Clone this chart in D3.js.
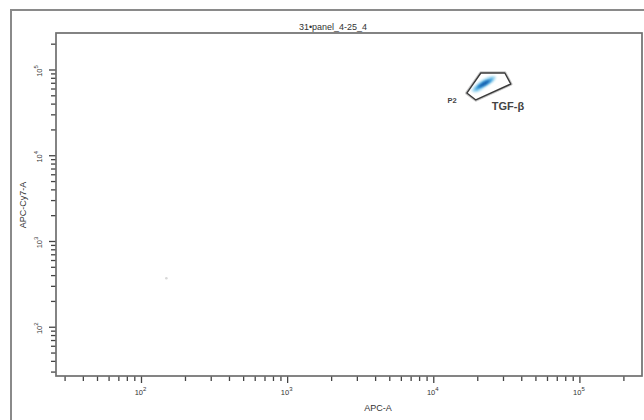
<!DOCTYPE html>
<html><head><meta charset="utf-8">
<script src="https://cdn.jsdelivr.net/npm/d3@7"></script>
<style>body{margin:0;background:#fff}svg{display:block}</style>
</head><body>
<svg id="c" width="644" height="420"></svg>
<script>
// ---- data ----
const title = "31•panel_4-25_4";
const xLabel = "APC-A";
const yLabel = "APC-Cy7-A";
const xDomain = [26, 266000];
const yDomain = [27, 270000];
const majorExps = [2, 3, 4, 5];
const gateName = "P2";
const populationLabel = "TGF-β";
const gateVertices = [[16830,53840],[20990,92200],[30650,92200],[33660,68600],[19400,44700]];
const densityOuter = [[18200,56900],[19400,66800],[22000,78500],[24950,85100],[26600,82800],[25760,74300],[23070,65000],[20000,55300]];
const densityMiddle = [[19100,60000],[20650,68600],[23070,76400],[25350,80700],[24550,72400],[22000,65000],[19700,58400]];
const densityInner = [[20000,63300],[22000,72400],[24200,76400],[23070,68600],[21000,63300]];
const strayEvents = [[148,373]];

// ---- layout ----
const svg = d3.select("#c");
const L = 56, R = 642, T = 33, B = 376;
const x = d3.scaleLog().domain(xDomain).range([L, R]);
const y = d3.scaleLog().domain(yDomain).range([B, T]);
const FONT = "Liberation Sans, Arial";

// outer frame
svg.append("rect").attr("x",11).attr("y",10).attr("width",640).attr("height",420)
  .attr("fill","none").attr("stroke","#8a8a8a").attr("stroke-width",2);

// minor/major ticks
function tickVals(dom){
  const out=[];
  for(let e=1;e<=5;e++) for(let k=1;k<=9;k++){const v=k*Math.pow(10,e); if(v>=dom[0]&&v<=dom[1]) out.push({v, major:k===1});}
  return out;
}
const gx = svg.append("g");
tickVals(xDomain).forEach(t=>{
  gx.append("line").attr("x1",x(t.v)).attr("x2",x(t.v)).attr("y1",B).attr("y2",B+(t.major?7:5))
    .attr("stroke","#444").attr("stroke-width",1.3);
});
const gy = svg.append("g");
tickVals(yDomain).forEach(t=>{
  gy.append("line").attr("y1",y(t.v)).attr("y2",y(t.v)).attr("x1",L).attr("x2",L-(t.major?7:5))
    .attr("stroke","#444").attr("stroke-width",1.3);
});

// tick labels
majorExps.forEach(e=>{
  const v=Math.pow(10,e);
  const tx = gx.append("text").attr("x",x(v)-1).attr("y",395).attr("text-anchor","middle")
    .attr("font-family",FONT).attr("font-size",7.5).attr("fill","#333");
  tx.append("tspan").text("10");
  tx.append("tspan").attr("dy",-4).attr("font-size",6).text(e);
  const ty = gy.append("text").attr("transform",`translate(42,${y(v)+1}) rotate(-90)`).attr("text-anchor","middle")
    .attr("font-family",FONT).attr("font-size",7.5).attr("fill","#333");
  ty.append("tspan").text("10");
  ty.append("tspan").attr("dy",-4).attr("font-size",6).text(e);
});

// plot box
svg.append("rect").attr("x",L).attr("y",T).attr("width",R-L).attr("height",B-T)
  .attr("fill","none").attr("stroke","#6f6f6f").attr("stroke-width",1.7);

// title & labels
svg.append("text").attr("x",333).attr("y",30).attr("text-anchor","middle")
  .attr("font-family",FONT).attr("font-size",9).attr("fill","#333").text(title);
svg.append("text").attr("x",378).attr("y",411).attr("text-anchor","middle")
  .attr("font-family",FONT).attr("font-size",9).attr("fill","#333").text(xLabel);
svg.append("text").attr("transform","translate(26,205) rotate(-90)").attr("text-anchor","middle")
  .attr("font-family",FONT).attr("font-size",9).attr("fill","#333").text(yLabel);

// stray events
svg.selectAll(".ev").data(strayEvents).join("circle").attr("cx",d=>x(d[0])).attr("cy",d=>y(d[1]))
  .attr("r",1.3).attr("fill","#d8d8d8");

// gate
const lineClosed = d3.line().x(d=>x(d[0])).y(d=>y(d[1])).curve(d3.curveLinearClosed);
svg.append("path").attr("d",lineClosed(gateVertices)).attr("fill","none")
  .attr("stroke","#c8c8c8").attr("stroke-width",3.4).attr("stroke-linejoin","round");
svg.append("path").attr("d",lineClosed(gateVertices)).attr("fill","#fff")
  .attr("stroke","#3a3a3a").attr("stroke-width",1.4).attr("stroke-linejoin","round");

// density
const defs = svg.append("defs");
defs.append("filter").attr("id","bl").append("feGaussianBlur").attr("stdDeviation",0.8);
const smooth = d3.line().x(d=>x(d[0])).y(d=>y(d[1])).curve(d3.curveCardinalClosed);
[[densityOuter,"#a9dcf2"],[densityMiddle,"#3d9fdc"],[densityInner,"#135fae"]].forEach(([pts,c])=>{
  svg.append("path").attr("d",smooth(pts)).attr("fill",c).attr("filter","url(#bl)");
});

// gate labels
svg.append("text").attr("x",452).attr("y",103).attr("text-anchor","middle")
  .attr("font-family",FONT).attr("font-size",7.5).attr("font-weight","bold").attr("fill","#444").text(gateName);
svg.append("text").attr("x",508).attr("y",110).attr("text-anchor","middle")
  .attr("font-family",FONT).attr("font-size",11).attr("font-weight","bold").attr("fill","#444").text(populationLabel);
</script>
</body></html>
